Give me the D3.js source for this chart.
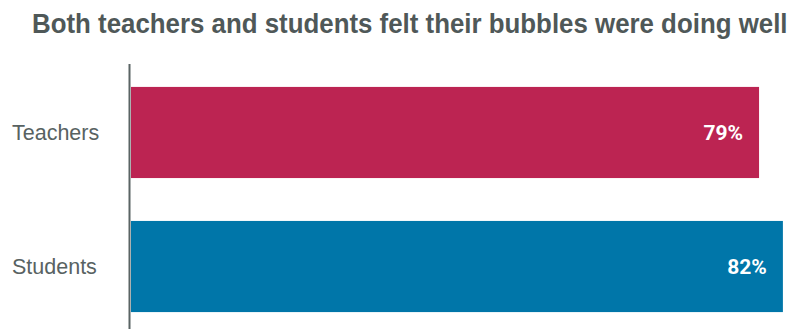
<!DOCTYPE html>
<html>
<head>
<meta charset="utf-8">
<script src="https://cdn.jsdelivr.net/npm/d3@7"></script>
<style>
  body { margin: 0; background: #ffffff; }
  svg { display: block; }
</style>
</head>
<body>
<div id="chart"></div>
<script>
var categories = ["Teachers", "Students"];
var values = [79, 82];
var barColors = ["#bc2452", "#0076a9"];
var title = "Both teachers and students felt their bubbles were doing well";

var width = 798,
    height = 329;

var svg = d3
    .select("#chart")
    .append("svg")
    .attr("width", width)
    .attr("height", height);

var x = d3.scaleLinear().domain([0, 100]).range([131, 926]);
var y = d3
    .scaleBand()
    .domain(categories)
    .range([64, 335])
    .paddingInner(0.32)
    .paddingOuter(0.171);

// title, squeezed horizontally to get the condensed look
var titleText = svg.append("text")
    .attr("x", 0)
    .attr("y", 0)
    .style("font-family", "'Liberation Sans', sans-serif")
    .style("font-weight", "bold")
    .style("font-size", "27px")
    .style("fill", "#4f5858")
    .text(title);
var titleLen = titleText.node().getComputedTextLength();
titleText.attr("transform", "translate(32,33) scale(" + (756 / titleLen) + ",1)");

// bars
svg.selectAll(".bar")
    .data(categories)
    .enter()
    .append("rect")
    .attr("class", "bar")
    .attr("x", x(0))
    .attr("y", function (d) {
        return y(d);
    })
    .attr("width", function (d, i) {
        return x(values[i]) - x(0);
    })
    .attr("height", y.bandwidth())
    .attr("fill", function (d, i) {
        return barColors[i];
    });

// value labels
svg.selectAll(".value-label")
    .data(categories)
    .enter()
    .append("text")
    .attr("class", "value-label")
    .attr("x", function (d, i) {
        return x(values[i]) - 16;
    })
    .attr("y", function (d) {
        return y(d) + y.bandwidth() / 2;
    })
    .attr("dy", "0.36em")
    .attr("text-anchor", "end")
    .style("font-family", "Roboto, sans-serif")
    .style("font-weight", "bold")
    .style("font-size", "21px")
    .style("fill", "#ffffff")
    .text(function (d, i) {
        return values[i] + "%";
    });

// category labels
svg.selectAll(".cat-label")
    .data(categories)
    .enter()
    .append("text")
    .attr("class", "cat-label")
    .attr("x", 12)
    .attr("y", function (d) {
        return y(d) + y.bandwidth() / 2;
    })
    .attr("dy", "0.36em")
    .style("font-family", "'Liberation Sans', Arial, sans-serif")
    .style("font-size", "21.5px")
    .style("fill", "#586262")
    .text(function (d) {
        return d;
    });

// axis line
svg.append("line")
    .attr("x1", 129.5)
    .attr("x2", 129.5)
    .attr("y1", 64)
    .attr("y2", 329)
    .attr("stroke", "#5a6464")
    .attr("stroke-width", 2);
</script>
</body>
</html>
